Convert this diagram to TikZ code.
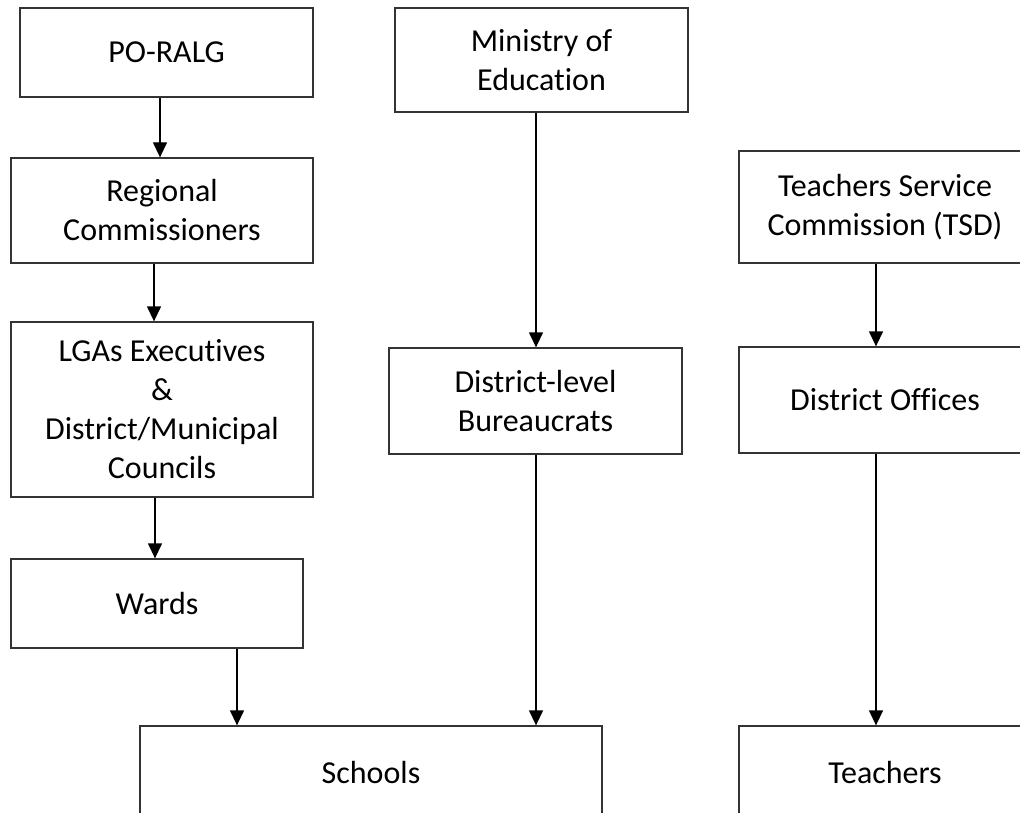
\documentclass[tikz,border=0pt]{standalone}
\usepackage{fontspec}
\setmainfont{Carlito}[Ligatures={NoCommon}]
\usetikzlibrary{arrows.meta}
\tikzset{
  box/.style={draw=black!80, line width=1.3pt, rectangle, align=center, inner sep=0pt,
    font=\fontsize{32}{39}\selectfont, text=black},
  arr/.style={draw=black, line width=1.3pt, -{Triangle[width=14pt,length=15pt]}}
}
\begin{document}
\begin{tikzpicture}[x=1pt,y=-1pt]
\useasboundingbox (0,0) rectangle (1020,813);
\clip (0,0) rectangle (1020,813);
\fill[white] (0,0) rectangle (1020,813);
\node[box, minimum width=293pt, minimum height=89pt] (po) at (166.5,52.5) {PO-RALG};
\node[box, minimum width=302pt, minimum height=105pt] (rc) at (162,210.5) {Regional\\Commissioners};
\node[box, minimum width=302pt, minimum height=175pt] (lga) at (162,409.5) {LGAs Executives\\\&\\District/Municipal\\Councils};
\node[box, minimum width=292pt, minimum height=89pt] (wards) at (157,603.5) {Wards};
\node[box, minimum width=293pt, minimum height=104pt] (moe) at (541.5,60) {Ministry of\\Education};
\node[box, minimum width=293pt, minimum height=106pt] (dlb) at (535.5,401) {District-level\\Bureaucrats};
\node[box, minimum width=292pt, minimum height=112pt] (tsc) at (885,207) {Teachers Service\\Commission (TSD)};
\node[box, minimum width=292pt, minimum height=106pt] (do) at (885,400) {District Offices};
\node[box, minimum width=462pt, minimum height=94pt] (schools) at (371,773) {Schools};
\node[box, minimum width=292pt, minimum height=94pt] (teachers) at (885,773) {Teachers};
\draw[arr] ([xshift=-6.5pt]po.south) -- ([xshift=-2pt]rc.north);
\draw[arr] ([xshift=-8pt]rc.south) -- ([xshift=-8pt]lga.north);
\draw[arr] ([xshift=-7pt]lga.south) -- ([xshift=-2pt]wards.north);
\draw[arr] ([xshift=80pt]wards.south) -- ([xshift=-134pt]schools.north);
\draw[arr] ([xshift=-5.5pt]moe.south) -- ([xshift=0.5pt]dlb.north);
\draw[arr] ([xshift=0.5pt]dlb.south) -- ([xshift=165pt]schools.north);
\draw[arr] ([xshift=-9pt]tsc.south) -- ([xshift=-9pt]do.north);
\draw[arr] ([xshift=-9pt]do.south) -- ([xshift=-9pt]teachers.north);
\end{tikzpicture}
\end{document}
